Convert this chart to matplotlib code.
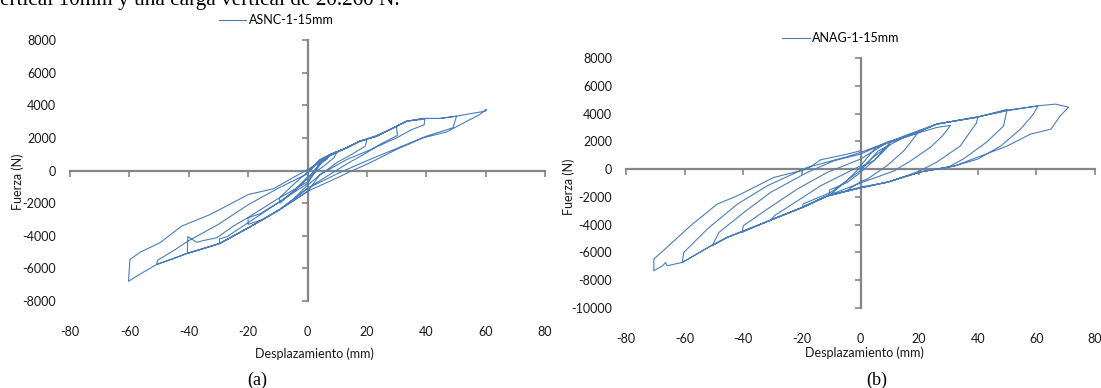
import matplotlib.pyplot as plt

plt.rcParams['font.family'] = ['Lato', 'DejaVu Sans']
plt.rcParams['axes.unicode_minus'] = False

# ---- (a) ASNC-1-15mm : desplazamiento (mm) / fuerza (N), ciclos
asnc_desp = [
    0, 4.2, 7.6, 10, 9, 5, 0, -5, -9.3, -9.5, -5, 0,
    4.2, 7.6, 13.2, 17.7, 20, 19.5, 15, 10, 4, 0, -5, -9.3, -15, -20, -20, -16, -9.3, -4, 0,
    4.2, 7.6, 13.2, 17.7, 23.3, 28.9, 30, 30.3, 24.4, 20, 13.2, 7, 0, -9.3, -19.9, -25, -29.5,
    -29.7, -27, -25, -20, -10, 0,
    4.2, 7.6, 13.2, 17.7, 23.3, 28.9, 33.4, 39.5, 39.3, 35, 30, 20, 13.2, 4.2, 0, -9.3, -19.9,
    -29.5, -35, -40.5, -40.3, -37.3, -34, -30.6, -25, -20, -10.4, 0,
    4.2, 7.6, 13.2, 17.7, 23.3, 28.9, 33.4, 39, 44.6, 50.2, 49, 40, 30, 20, 10, 0, -9.3, -19.9,
    -29.5, -40.7, -45, -50.8, -50.5, -45, -40, -30, -20, -10, 0,
    4.2, 7.6, 13.2, 17.7, 23.3, 28.9, 33.4, 39, 44.6, 50.2, 54.7, 60, 60.3, 58, 46.9, 39, 30,
    21, 14.3, 7.6, 0, -9.3, -19.9, -29.5, -40.7, -50.8, -55, -60.3, -59.8, -56.4, -49.7, -42.4,
    -32.8, -19.9, -11.5, 0, 6.6,
]
asnc_fuerza = [
    0, 600, 950, 1150, 800, 200, -400, -1300, -2000, -1700, -900, -100,
    650, 980, 1390, 1800, 1900, 1500, 1000, 500, -300, -900, -1800, -2390, -3000, -3300, -2900,
    -2650, -1900, -1200, -500,
    400, 900, 1390, 1800, 2100, 2600, 2660, 2150, 1600, 1100, 400, -300, -1100, -2390, -3510,
    -4000, -4470, -4200, -4050, -3800, -3200, -2000, -800,
    350, 950, 1390, 1800, 2150, 2620, 3020, 3150, 2800, 2500, 2000, 1180, 670, -250, -1300,
    -2390, -3510, -4470, -4800, -5090, -4050, -4400, -4250, -4130, -3410, -2880, -1780, -700,
    500, 980, 1390, 1800, 2100, 2620, 3020, 3190, 3190, 3330, 2620, 2100, 1350, 600, -200, -1100,
    -2390, -3510, -4470, -5090, -5400, -5760, -5500, -4900, -4300, -3300, -2100, -1100, -200,
    670, 980, 1390, 1800, 2100, 2620, 3020, 3190, 3190, 3330, 3480, 3640, 3760, 3430, 2370, 2000,
    1290, 470, -80, -650, -1270, -2390, -3510, -4470, -5090, -5760, -6200, -6790, -5460, -5010,
    -4430, -3410, -2700, -1470, -1120, 60, 700,
]

# ---- (b) ANAG-1-15mm
anag_desp = [
    0, 4, 10.2, 8, 4.5, 0, -5, -10.8, -10.5, -4.5, 0,
    5, 10, 19.5, 17, 14.7, 9, 2.3, 0, -5, -11.4, -20, -19.5, -10.2, 0,
    6, 15, 26, 30.7, 28, 23.9, 17, 11.3, 0, -11.4, -20, -30.7, -29, -25, -13.6, 0,
    5, 15, 26, 40, 39.5, 34, 26, 20, 10, 0, -11.4, -19.9, -34, -40.4, -40, -31.8, -21.6, -11.4, 0,
    9, 19.3, 26, 40, 50, 48.8, 43, 35, 30, 20.5, 9.2, 0, -11.4, -19.9, -34, -45.5, -50.6, -48.3,
    -39.8, -30.7, -18.2, -9.1, 0,
    9, 19.3, 26, 40, 50, 60.5, 59, 54.6, 47.8, 40, 32, 20.5, 9.2, 0, -11.4, -19.9, -34, -45.5,
    -51, -60.8, -60.3, -52.3, -42, -31.8, -18.2, -4.5, 0,
    9, 19.3, 26, 40, 50, 60.5, 66.5, 71, 68, 65, 58, 50, 41, 32, 20.5, 9.2, 0, -11.4, -19.9, -34,
    -45.5, -51, -60.8, -66, -66.5, -67.5, -70.5, -70.5, -64.2, -58, -48.9, -42, -29.6, -18.2,
    -13.6, -4.5, 0,
]
anag_fuerza = [
    0, 800, 1800, 1300, 600, 140, -900, -1920, -1500, -960, -240,
    700, 1900, 2600, 1900, 1300, 240, -720, -900, -1600, -1950, -2800, -2500, -1680, -100,
    1300, 2300, 3000, 3150, 2400, 1580, 580, -140, -1000, -1920, -2780, -3650, -3300, -2760,
    -1200, 240,
    1500, 2400, 3250, 3740, 3300, 1660, 500, -150, -900, -1350, -1950, -2760, -3960, -4560,
    -4080, -2880, -1440, -240, 720,
    1900, 2640, 3240, 3740, 4300, 3100, 1940, 720, 150, -200, -940, -1350, -1920, -2760, -3960,
    -4920, -5520, -4560, -3120, -1680, -240, 600, 1080,
    1920, 2640, 3240, 3760, 4250, 4540, 3960, 2880, 1660, 720, 220, -200, -940, -1350, -1920,
    -2760, -3960, -4920, -5520, -6720, -6000, -4320, -2520, -1200, 120, 900, 1200,
    1920, 2640, 3240, 3760, 4200, 4560, 4680, 4460, 3800, 2880, 2520, 1660, 940, 220, -200, -940,
    -1300, -1920, -2760, -3960, -4920, -5520, -6720, -6960, -6720, -6960, -7320, -6480, -5280,
    -4080, -2520, -1920, -600, 0, 670, 1080, 1320,
]

x_ticks = [-80, -60, -40, -20, 0, 20, 40, 60, 80]
y_ticks_a = [-8000, -6000, -4000, -2000, 0, 2000, 4000, 6000, 8000]
y_ticks_b = [-10000, -8000, -6000, -4000, -2000, 0, 2000, 4000, 6000, 8000]

azul = '#4a7ebb'
gris = '#868686'
texto = '#1a1a1a'

fig = plt.figure(figsize=(11.01, 3.88), dpi=100)
ax1 = fig.add_axes([70 / 1101, 1 - 301 / 388, 475 / 1101, 261 / 388])
ax2 = fig.add_axes([626 / 1101, 1 - 308 / 388, 469 / 1101, 250 / 388])


def ejes(ax, yticks):
    ax.set_xlim(x_ticks[0], x_ticks[-1])
    ax.set_ylim(yticks[0], yticks[-1])
    ax.set_xticks(x_ticks)
    ax.set_yticks(yticks)
    ax.spines['left'].set_visible(False)
    ax.spines['bottom'].set_visible(False)
    for lado in ['top', 'right']:
        ax.spines[lado].set_position(('data', 0))
        ax.spines[lado].set_color(gris)
        ax.spines[lado].set_linewidth(1.6)
        ax.spines[lado].set_zorder(1)
    ax.xaxis.set_ticks_position('both')
    ax.yaxis.set_ticks_position('both')
    ax.tick_params(axis='x', bottom=False, top=True, labelbottom=True, labeltop=False,
                   direction='in', length=4, width=1.2, color=gris, pad=18,
                   labelsize=9, labelcolor=texto)
    ax.tick_params(axis='y', left=False, right=True, labelleft=True, labelright=False,
                   direction='in', length=4, width=1.2, color=gris, pad=10,
                   labelsize=9, labelcolor=texto)
    ax.patch.set_visible(False)


ax1.plot(asnc_desp, asnc_fuerza, color=azul, lw=0.8, label='ASNC-1-15mm', zorder=3)
ejes(ax1, y_ticks_a)
ax1.legend(loc='center', bbox_to_anchor=(276 / 1101, 1 - 20 / 388),
           bbox_transform=fig.transFigure, frameon=False, fontsize=9,
           handlelength=2.2, handletextpad=0.2)

ax2.plot(anag_desp, anag_fuerza, color=azul, lw=0.8, label='ANAG-1-15mm', zorder=3)
ejes(ax2, y_ticks_b)
ax2.legend(loc='center', bbox_to_anchor=(841 / 1101, 1 - 38 / 388),
           bbox_transform=fig.transFigure, frameon=False, fontsize=9,
           handlelength=2.2, handletextpad=0.2)

fig.text(314 / 1101, 1 - 354 / 388, 'Desplazamiento (mm)', ha='center', va='center',
         fontsize=9, color=texto)
fig.text(864 / 1101, 1 - 353 / 388, 'Desplazamiento (mm)', ha='center', va='center',
         fontsize=9, color=texto)
fig.text(18 / 1101, 1 - 182 / 388, 'Fuerza (N)', ha='center', va='center',
         rotation=90, fontsize=9, color=texto)
fig.text(569 / 1101, 1 - 187 / 388, 'Fuerza (N)', ha='center', va='center',
         rotation=90, fontsize=9, color=texto)

fig.text(257 / 1101, 1 - 380 / 388, '(a)', ha='center', va='center',
         family='Liberation Serif', fontsize=13)
fig.text(877 / 1101, 1 - 380 / 388, '(b)', ha='center', va='center',
         family='Liberation Serif', fontsize=13)
fig.text(0, 1.0, 'ertical 10mm y una carga vertical de 20.260 N.', ha='left',
         va='center', family='Liberation Serif', fontsize=15.3)

fig.savefig('out.png', dpi=100)
